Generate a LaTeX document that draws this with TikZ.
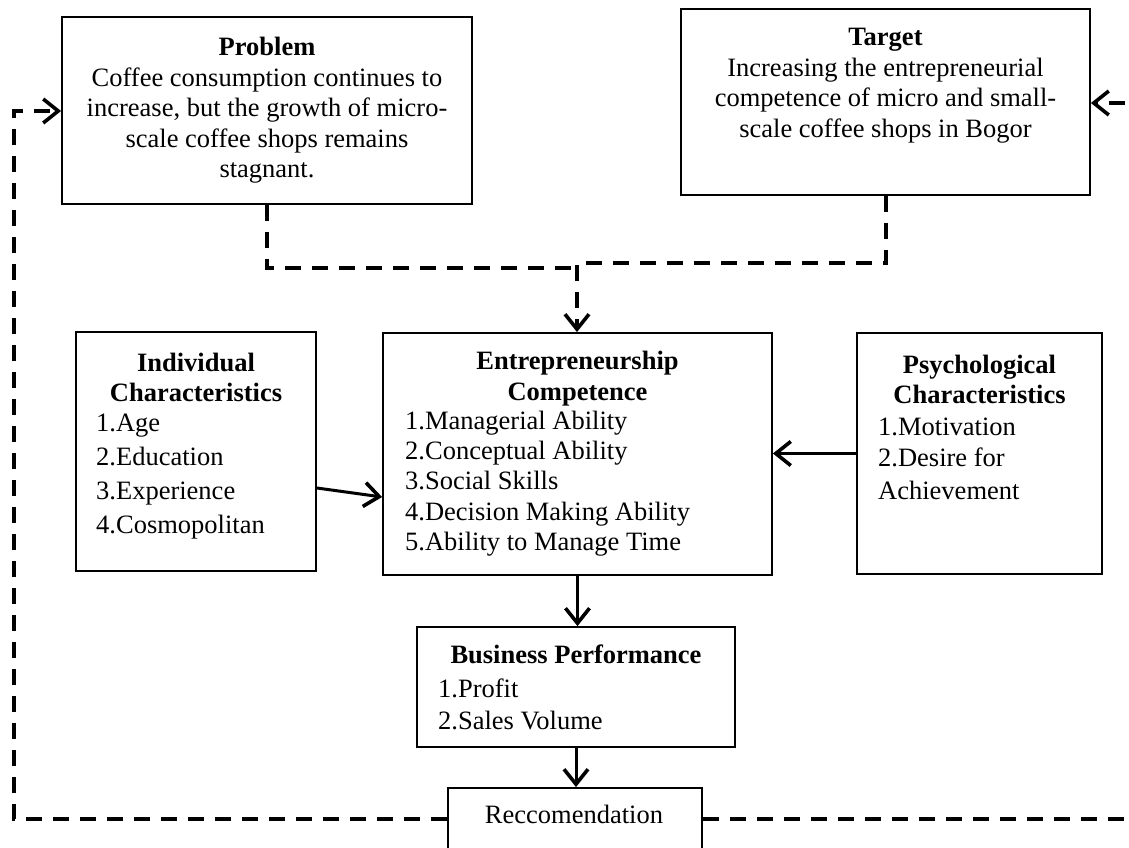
\documentclass[tikz,border=0pt]{standalone}
\usepackage{fontspec}
\setmainfont{Liberation Serif}
\usetikzlibrary{arrows.meta}
\begin{document}
\begin{tikzpicture}[x=1pt,y=-1pt,
  box/.style={draw, line width=1.8pt, inner sep=0pt, rectangle},
  txt/.style={font=\fontsize{26.5}{30}\selectfont, inner sep=0pt, anchor=base},
  hd/.style={txt, font=\fontsize{26.5}{30}\selectfont\bfseries},
  item/.style={txt, anchor=base west},
  tip/.style={-{Straight Barb[length=15pt,width=24pt,line width=3.6pt]}},
  solidarrow/.style={line width=3pt, tip},
  dashline/.style={line width=4pt, dash pattern=on 16pt off 11pt}]
\clip (0,0) rectangle (1129,848);
\fill[white] (0,0) rectangle (1129,848);

% boxes
\node[box, minimum width=410pt, minimum height=187pt] (prob) at (267,110.5) {};
\node[box, minimum width=409pt, minimum height=186pt] (targ) at (885.5,102) {};
\node[box, minimum width=389pt, minimum height=242pt] (ent) at (577.5,454) {};
\node[box, minimum width=240pt, minimum height=239pt] (ind) at (196,451.5) {};
\node[box, minimum width=245pt, minimum height=241pt] (psy) at (979.5,453.5) {};
\node[box, minimum width=318pt, minimum height=120pt] (bus) at (576,687) {};
\node[box, minimum width=254pt, minimum height=72pt] (rec) at (575,824) {};

% texts
\node[hd] (prob-h) at (267,56) {Problem};
\node[txt] (prob-1) at (267,87) {Coffee consumption continues to};
\node[txt] (prob-2) at (267,117) {increase, but the growth of micro-};
\node[txt] (prob-3) at (267,147) {scale coffee shops remains};
\node[txt] (prob-4) at (267,177) {stagnant.};

\node[hd] (targ-h) at (885.5,46) {Target};
\node[txt] (targ-1) at (885.5,77) {Increasing the entrepreneurial};
\node[txt] (targ-2) at (885.5,107) {competence of micro and small-};
\node[txt] (targ-3) at (885.5,137) {scale coffee shops in Bogor};

\node[hd] (ent-h1) at (577.5,369) {Entrepreneurship};
\node[hd] (ent-h2) at (577.5,400) {Competence};
\node[item] (ent-1) at (405,429) {1.Managerial Ability};
\node[item] (ent-2) at (405,459) {2.Conceptual Ability};
\node[item] (ent-3) at (405,489) {3.Social Skills};
\node[item] (ent-4) at (405,520) {4.Decision Making Ability};
\node[item] (ent-5) at (405,550) {5.Ability to Manage Time};

\node[hd] (ind-h1) at (196,371) {Individual};
\node[hd] (ind-h2) at (196,401) {Characteristics};
\node[item] (ind-1) at (96,431) {1.Age};
\node[item] (ind-2) at (96,465) {2.Education};
\node[item] (ind-3) at (96,499) {3.Experience};
\node[item] (ind-4) at (96,533) {4.Cosmopolitan};

\node[hd] (psy-h1) at (979.5,373) {Psychological};
\node[hd] (psy-h2) at (979.5,403) {Characteristics};
\node[item] (psy-1) at (878,435) {1.Motivation};
\node[item] (psy-2) at (878,466) {2.Desire for};
\node[item] (psy-3) at (878,499) {Achievement};

\node[hd] (bus-h) at (576,663) {Business Performance};
\node[item] (bus-1) at (438,697) {1.Profit};
\node[item] (bus-2) at (438,729) {2.Sales Volume};

\node[txt] (rec-t) at (574,823) {Reccomendation};

% solid connectors
\draw[solidarrow] ([yshift=-36.5pt]ind.east) -- ([yshift=-43pt]ent.west);
\draw[solidarrow] (psy.west) -- (ent.east |- psy.west);
\draw[solidarrow] (ent.south) -- (ent.south |- bus.north);
\draw[solidarrow] (bus.south) -- (bus.south |- rec.north);

% dashed connectors
\coordinate (j1) at (577,268);
\coordinate (j2) at (577,263);
\draw[dashline] (prob.south) |- (j1);
\draw[dashline, tip] (targ.south) |- (j2) -- (j2 |- ent.north);

\coordinate (lc1) at (14,819);
\coordinate (lc2) at (14,111);
\draw[dashline, tip] ([yshift=5pt]rec.west) -- (lc1) -- (lc2) -- (lc2 -| prob.west);

\coordinate (rc1) at (1150,819);
\coordinate (rc2) at (1150,103);
\draw[dashline, tip] ([yshift=5pt]rec.east) -- (rc1) -- (rc2) -- (rc2 -| targ.east);
\end{tikzpicture}
\end{document}
